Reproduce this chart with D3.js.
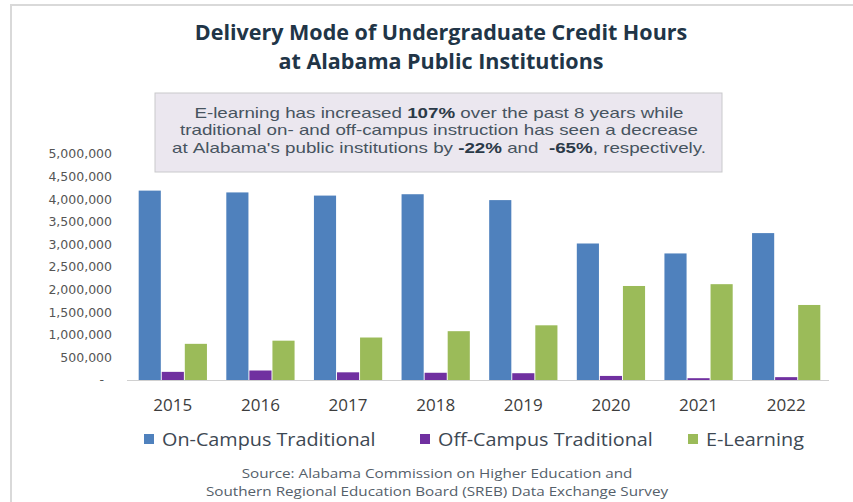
<!DOCTYPE html>
<html>
<head>
<meta charset="utf-8">
<script src="https://cdn.jsdelivr.net/npm/d3@7"></script>
<style>
  body { margin: 0; background: #fff; }
  svg { display: block; }
</style>
</head>
<body>
<div id="chart"></div>
<script>
// data
const years = ["2015", "2016", "2017", "2018", "2019", "2020", "2021", "2022"];
const onCampus = [4190000, 4150000, 4080000, 4110000, 3980000, 3020000, 2800000, 3250000];
const offCampus = [180000, 210000, 170000, 160000, 150000, 90000, 40000, 63000];
const eLearning = [800000, 870000, 940000, 1080000, 1210000, 2080000, 2120000, 1660000];
const seriesNames = ["On-Campus Traditional", "Off-Campus Traditional", "E-Learning"];
const yTicks = [0, 500000, 1000000, 1500000, 2000000, 2500000, 3000000, 3500000, 4000000, 4500000, 5000000];

const colors = ["#4f81bd", "#7030a0", "#9bbb59"];
const width = 853;
const height = 502;
const baseY = 380;
const topY = 154;
const font = "Open Sans";

const svg = d3.select("#chart")
  .append("svg")
    .attr("width", width)
    .attr("height", height);

// outer frame
svg.append("rect")
  .attr("x", 11).attr("y", 5)
  .attr("width", 900).attr("height", 600)
  .attr("fill", "#fff")
  .attr("stroke", "#d9d9d9")
  .attr("stroke-width", 2);

// the reference type is wider than what we have, so blocks get an x stretch
function centered(lines, cx, y0, lineH, size, weight, color, sx) {
  lines.forEach((line, i) => {
    svg.append("g")
      .attr("transform", `translate(${cx},${y0 + i * lineH}) scale(${sx},1)`)
      .append("text")
        .attr("text-anchor", "middle")
        .style("font-family", font)
        .style("font-weight", weight)
        .style("font-size", size + "px")
        .attr("fill", color)
        .text(line);
  });
}

// title
centered(["Delivery Mode of Undergraduate Credit Hours", "at Alabama Public Institutions"],
  441, 39.5, 29, 21, 700, "#213547", 1.025);

// note box
svg.append("rect")
  .attr("x", 155).attr("y", 93)
  .attr("width", 567).attr("height", 79)
  .attr("fill", "#ebe7ef")
  .attr("stroke", "#c9c9cc")
  .attr("stroke-width", 1);

const noteLines = [
  [["E-learning has increased", 0], ["107%", 1], ["over the past 8 years while", 0]],
  [["traditional on- and off-campus instruction has seen a decrease", 0]],
  [["at Alabama's public institutions by", 0], ["-22%", 1], ["and", 0], [" -65%", 1], [", respectively.", 0]]
];
const noteFont = "Liberation Sans";
const noteSize = 14.5;
const noteWidest = 534; // width of the longest line in the reference
const noteRows = noteLines.map((parts, i) => {
  const g = svg.append("g");
  // split into words so every word is its own text
  const words = [];
  parts.forEach(p => {
    let txt = p[0];
    let extra = 0;
    if (txt.startsWith(" ")) { extra = 1; txt = txt.trim(); }
    txt.split(" ").forEach((w, j) => {
      const glue = w.startsWith(",");
      words.push({ w: w, bold: p[1], gap: glue ? 0 : 1 + (j === 0 ? extra : 0) });
    });
  });
  words[0].gap = 0;
  const sp = noteSize * 0.278;
  const nodes = words.map(d => g.append("text")
    .style("font-family", noteFont)
    .style("font-size", noteSize + "px")
    .style("font-weight", d.bold ? 700 : 400)
    .attr("fill", d.bold ? "#2b3a48" : "#47545f")
    .text(d.w));
  let pos = 0;
  const xs = words.map((d, k) => {
    pos += d.gap * sp;
    const at = pos;
    pos += nodes[k].node().getComputedTextLength();
    return at;
  });
  nodes.forEach((n, k) => n.attr("x", xs[k] - pos / 2));
  return { g: g, w: pos, i: i };
});
const noteSx = noteWidest / d3.max(noteRows, r => r.w);
noteRows.forEach(r => r.g.attr("transform", `translate(439,${118 + r.i * 17.3}) scale(${noteSx},1)`));

// scales
const x = d3.scaleBand()
  .domain(years)
  .range([129, 830])
  .paddingInner(0.2)
  .paddingOuter(0.1);

const xInner = d3.scaleBand()
  .domain([0, 1, 2])
  .range([0, x.bandwidth()])
  .padding(0.04);

const y = d3.scaleLinear()
  .domain([0, 5000000])
  .range([baseY, topY]);

// y axis labels
svg.append("g")
  .attr("transform", "translate(112,0)")
  .selectAll("text")
  .data(yTicks)
  .join("text")
    .attr("x", d => d === 0 ? -8 : 0)
    .attr("y", d => y(d))
    .attr("dy", "0.35em")
    .attr("text-anchor", "end")
    .style("font-family", "DejaVu Sans")
    .style("font-size", "12.5px")
    .attr("fill", "#555")
    .text(d => d === 0 ? "-" : d3.format(",")(d));

// bars
const rows = years.map((yr, i) => ({ year: yr, values: [onCampus[i], offCampus[i], eLearning[i]] }));

const groups = svg.append("g")
  .selectAll("g")
  .data(rows)
  .join("g")
    .attr("transform", d => `translate(${x(d.year)},0)`);

groups.selectAll("rect")
  .data(d => d.values.map((v, k) => ({ k: k, v: v })))
  .join("rect")
    .attr("x", d => xInner(d.k))
    .attr("width", xInner.bandwidth())
    .attr("y", d => y(d.v))
    .attr("height", d => baseY - y(d.v))
    .attr("fill", d => colors[d.k]);

// baseline
svg.append("line")
  .attr("x1", 127).attr("x2", 829)
  .attr("y1", baseY + 0.5).attr("y2", baseY + 0.5)
  .attr("stroke", "#d0d0d0")
  .attr("stroke-width", 1);

// x labels
svg.append("g")
  .selectAll("text")
  .data(years)
  .join("text")
    .attr("x", d => x(d) + x.bandwidth() / 2)
    .attr("y", 411)
    .attr("text-anchor", "middle")
    .style("font-family", font)
    .style("font-size", "17px")
    .attr("fill", "#3d3d3d")
    .text(d => d);

// legend
const legendX = [144, 420, 688];
const legend = svg.append("g")
  .selectAll("g")
  .data(seriesNames)
  .join("g")
    .attr("transform", (d, i) => `translate(${legendX[i]},434)`);
legend.append("rect")
  .attr("width", 10).attr("height", 10)
  .attr("fill", (d, i) => colors[i]);
legend.append("g")
  .attr("transform", "translate(18,11.5) scale(1.1,1)")
  .append("text")
    .style("font-family", font)
    .style("font-size", "18px")
    .attr("fill", "#3d4853")
    .text(d => d);

// source
centered(["Source: Alabama Commission on Higher Education and",
          "Southern Regional Education Board (SREB) Data Exchange Survey"],
  437, 477.5, 18, 12.5, 400, "#55606a", 1.22);
</script>
</body>
</html>
